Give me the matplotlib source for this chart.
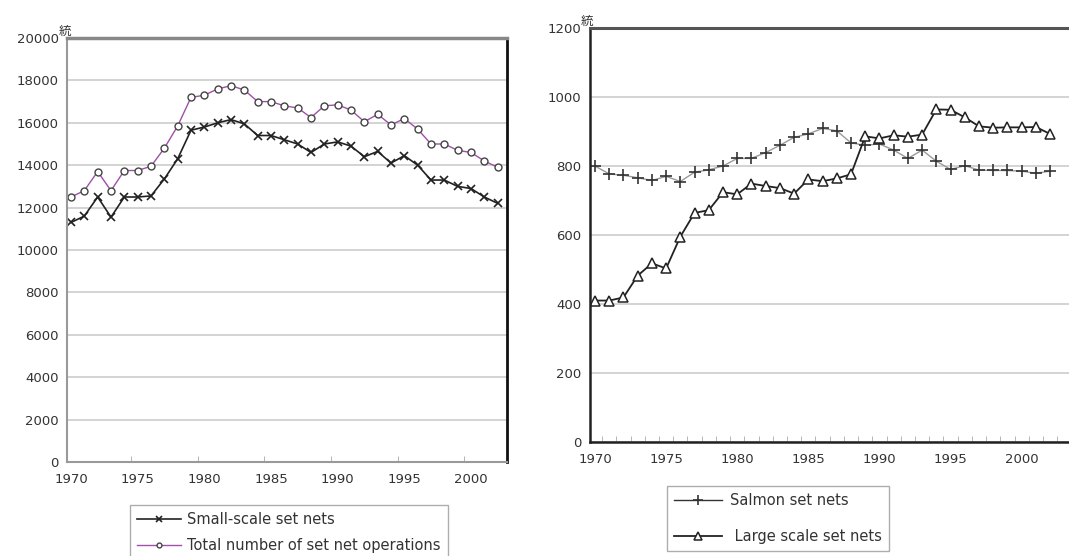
import numpy as np
import matplotlib
matplotlib.use("Agg")
from matplotlib import pyplot as plt

years = list(range(1970, 2003))

# left panel
small_scale = [11300, 11600, 12500, 11550, 12500, 12500, 12550, 13350, 14300, 15650,
               15800, 16000, 16150, 15950, 15400, 15400, 15200, 15000, 14600, 15000,
               15100, 14900, 14400, 14650, 14100, 14450, 14000, 13300, 13300, 13000,
               12900, 12500, 12200]
total_ops = [12500, 12800, 13700, 12800, 13750, 13750, 13950, 14800, 15850, 17200,
             17300, 17600, 17750, 17550, 17000, 17000, 16800, 16700, 16250, 16800,
             16850, 16600, 16050, 16400, 15900, 16200, 15700, 15000, 15000, 14700,
             14600, 14200, 13900]

# right panel
salmon = [800, 777, 773, 766, 758, 770, 755, 782, 789, 800,
          822, 822, 839, 860, 883, 893, 909, 902, 867, 860,
          864, 846, 822, 846, 814, 790, 801, 788, 787, 787,
          785, 779, 785]
large_scale = [410, 410, 419, 482, 518, 503, 595, 664, 672, 724,
               718, 749, 742, 736, 720, 761, 756, 764, 776, 886,
               880, 889, 885, 891, 964, 963, 941, 915, 911, 912,
               912, 913, 893]

unit = "統"
tick_years = [1970, 1975, 1980, 1985, 1990, 1995, 2000]

plt.rcParams["font.family"] = ["DejaVu Sans"]
txt = "#333333"
cjk = ["Noto Sans CJK JP", "DejaVu Sans"]

fig = plt.figure(figsize=(10.69, 5.56), dpi=100)

# ---------- left chart ----------
ax1 = fig.add_axes([67 / 1069, 1 - 462 / 556, 440 / 1069, 424 / 556])
ax1.plot(years, small_scale, color="#222222", lw=1.2, marker="x", ms=6, mew=1.2,
         label="Small-scale set nets")
ax1.plot(years, total_ops, color="#a050a8", lw=1.0, marker="o", ms=5, mfc="white",
         mec="#444444", mew=1.0, label="Total number of set net operations")
ax1.set_xlim(1969.7, 2002.7)
ax1.set_ylim(0, 20000)
ax1.set_yticks(np.arange(0, 20001, 2000))
ax1.set_xticks(tick_years)
ax1.set_xticks([y - 0.5 for y in tick_years[1:]], minor=True)
ax1.tick_params(axis="x", which="major", length=0, pad=8, labelsize=9.5, labelcolor=txt)
ax1.tick_params(axis="x", which="minor", length=4, direction="in", color="#aaaaaa")
ax1.tick_params(axis="y", length=0, pad=6, labelsize=9.5, labelcolor=txt)
ax1.grid(axis="y", color="#cccccc", lw=1.2)
ax1.set_axisbelow(True)
for s in ["left", "bottom"]:
    ax1.spines[s].set_color("#999999")
    ax1.spines[s].set_linewidth(1.5)
ax1.spines["top"].set_color("#888888")
ax1.spines["top"].set_linewidth(2.5)
ax1.spines["right"].set_color("#111111")
ax1.spines["right"].set_linewidth(2)
ax1.text(-0.02, 1.0, unit, transform=ax1.transAxes, ha="left", va="bottom", fontsize=9,
         color=txt, family=cjk)
leg1 = ax1.legend(loc="upper left", bbox_to_anchor=(130 / 1069, 1 - 505 / 556),
                  bbox_transform=fig.transFigure, fontsize=10.5, frameon=True, fancybox=False,
                  edgecolor="#999999", handlelength=3.0, handletextpad=0.4,
                  labelspacing=0.75, borderpad=0.5, borderaxespad=0, markerscale=0.7)
leg1.get_frame().set_linewidth(1.0)
for t in leg1.get_texts():
    t.set_color(txt)

# ---------- right chart ----------
ax2 = fig.add_axes([590 / 1069, 1 - 442 / 556, 490 / 1069, 414 / 556])
ax2.plot(years, salmon, color="#9a9a9a", lw=1.0, marker="+", ms=9,
         mew=1.2, mec="#333333", label="Salmon set nets")
ax2.plot(years, large_scale, color="#222222", lw=1.3, marker="^", ms=6.5, mfc="white",
         mec="#222222", mew=1.1, label=" Large scale set nets")
ax2.set_xlim(1969.65, 2004.1)
ax2.set_ylim(0, 1200)
ax2.set_yticks(np.arange(0, 1201, 200))
ax2.set_xticks(tick_years)
ax2.set_xticks([y + 0.5 for y in range(1970, 2004)], minor=True)
ax2.tick_params(axis="x", which="major", length=0, pad=8, labelsize=9.5, labelcolor=txt)
ax2.tick_params(axis="x", which="minor", length=4, direction="in", color="#aaaaaa")
ax2.tick_params(axis="y", length=0, pad=6, labelsize=9.5, labelcolor=txt)
ax2.grid(axis="y", color="#cccccc", lw=1.2)
ax2.set_axisbelow(True)
for s in ["left", "bottom"]:
    ax2.spines[s].set_color("#222222")
    ax2.spines[s].set_linewidth(1.8)
ax2.spines["top"].set_color("#555555")
ax2.spines["top"].set_linewidth(2.2)
ax2.spines["right"].set_visible(False)
ax2.text(-0.02, 1.0, unit, transform=ax2.transAxes, ha="left", va="bottom", fontsize=9,
         color=txt, family=cjk)
leg2 = ax2.legend(loc="upper left", bbox_to_anchor=(667 / 1069, 1 - 486 / 556),
                  bbox_transform=fig.transFigure, fontsize=10.5, frameon=True, fancybox=False,
                  edgecolor="#999999", handlelength=3.3, handletextpad=0.5,
                  labelspacing=1.4, borderpad=0.5, borderaxespad=0, markerscale=0.8)
leg2.get_frame().set_linewidth(1.0)
leg2.get_lines()[0].set_color("#333333")
for t in leg2.get_texts():
    t.set_color(txt)

fig.savefig("out.png", dpi=100)
